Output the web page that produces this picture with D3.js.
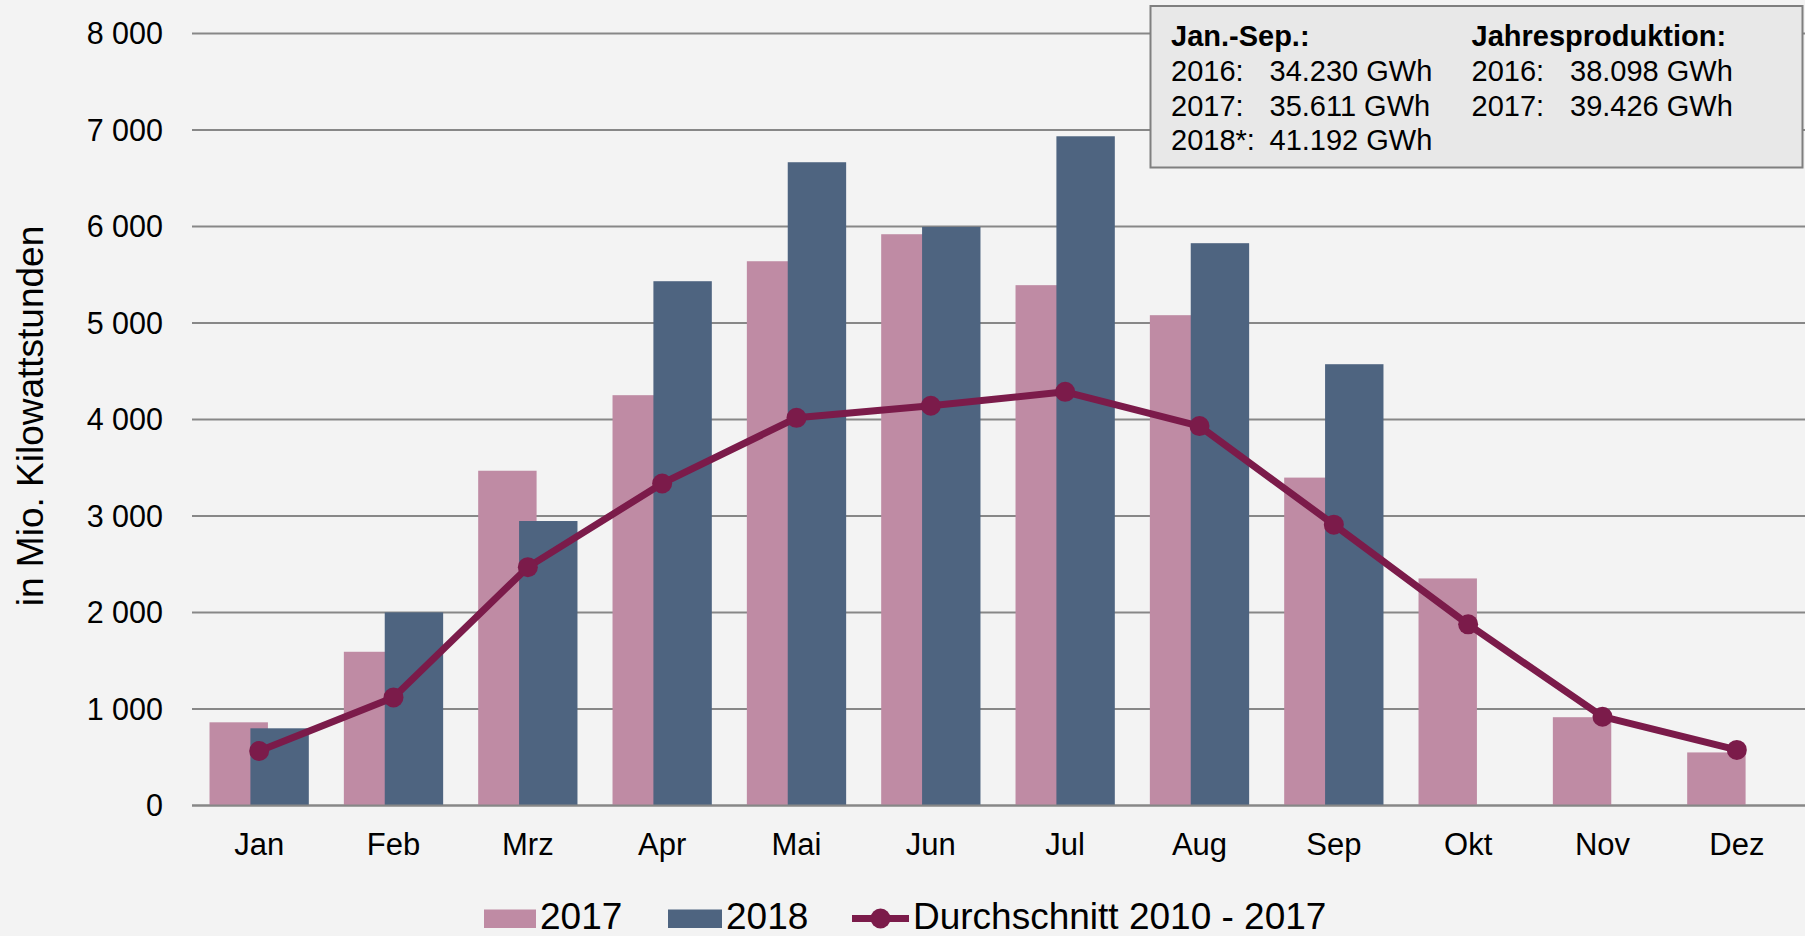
<!DOCTYPE html>
<html>
<head>
<meta charset="utf-8">
<script src="https://cdn.jsdelivr.net/npm/d3@7/dist/d3.min.js"></script>
<style>
  html, body { margin: 0; padding: 0; background: #f3f3f3; }
  svg { display: block; font-family: "Liberation Sans", Arial, sans-serif; }
</style>
</head>
<body>
<svg id="chart" width="1805" height="936"></svg>
<script>
// ---- Data ----
const months = ["Jan", "Feb", "Mrz", "Apr", "Mai", "Jun", "Jul", "Aug", "Sep", "Okt", "Nov", "Dez"];
const values2017 = [862, 1593, 3469, 4252, 5640, 5920, 5392, 5081, 3398, 2353, 915, 550];
const values2018 = [800, 2001, 2948, 5433, 6666, 5996, 6935, 5827, 4573, null, null, null];
const average = [565, 1119, 2470, 3337, 4017, 4142, 4287, 3932, 2910, 1877, 920, 576];
const yTicks = [0, 1000, 2000, 3000, 4000, 5000, 6000, 7000, 8000];
const seriesNames = ["2017", "2018", "Durchschnitt 2010 - 2017"];
const yTitle = "in Mio. Kilowattstunden";
const boxLeft = [
  { label: "Jan.-Sep.:", value: "", bold: true },
  { label: "2016:", value: "34.230 GWh" },
  { label: "2017:", value: "35.611 GWh" },
  { label: "2018*:", value: "41.192 GWh" }
];
const boxRight = [
  { label: "Jahresproduktion:", value: "", bold: true },
  { label: "2016:", value: "38.098 GWh" },
  { label: "2017:", value: "39.426 GWh" }
];

// ---- Styles ----
const C2017 = "#bf8ba4", C2018 = "#4e6480", CAVG = "#7b1b4a", CGRID = "#878787";

const svg = d3.select("#chart");
svg.append("rect").attr("width", 1805).attr("height", 936).attr("fill", "#f3f3f3");

const x = d3.scaleBand().domain(months).range([192, 1804]).paddingInner(0).paddingOuter(0);
const y = d3.scaleLinear().domain([0, 8000]).range([805.5, 33.5]);
const fmt = d3.formatLocale({ decimal: ",", thousands: " ", grouping: [3], currency: ["", ""] }).format(",d");

// gridlines
svg.append("g").selectAll("line").data(yTicks).join("line")
  .attr("x1", 192).attr("x2", 1805)
  .attr("y1", d => y(d)).attr("y2", d => y(d))
  .attr("stroke", CGRID).attr("stroke-width", 2.2);

// y tick labels
svg.append("g").selectAll("text").data(yTicks).join("text")
  .attr("x", 163).attr("y", d => y(d)).attr("dy", "0.36em")
  .attr("text-anchor", "end").attr("font-size", 30.5).attr("fill", "#000")
  .text(d => fmt(d));

// y title
svg.append("text")
  .attr("transform", "translate(43,416) rotate(-90)")
  .attr("text-anchor", "middle").attr("font-size", 37).attr("fill", "#000")
  .text(yTitle);

// bars
const bw = x.bandwidth() / 2.3;
const start = m => x(m) + 0.3 * bw;

svg.append("g").selectAll("rect").data(months).join("rect")
  .attr("x", m => start(m))
  .attr("y", (m, i) => y(values2017[i]))
  .attr("width", bw)
  .attr("height", (m, i) => y(0) - y(values2017[i]))
  .attr("fill", C2017);

svg.append("g").selectAll("rect")
  .data(months.filter((m, i) => values2018[i] != null)).join("rect")
  .attr("x", m => start(m) + 0.7 * bw)
  .attr("y", m => y(values2018[months.indexOf(m)]))
  .attr("width", bw)
  .attr("height", m => y(0) - y(values2018[months.indexOf(m)]))
  .attr("fill", C2018);

// baseline redraw on top of bars
svg.append("line").attr("x1", 192).attr("x2", 1805).attr("y1", y(0)).attr("y2", y(0))
  .attr("stroke", CGRID).attr("stroke-width", 2.2);

// average line
const cx = m => x(m) + x.bandwidth() / 2;
const line = d3.line().x((d, i) => cx(months[i])).y(d => y(d));
svg.append("path").datum(average).attr("d", line)
  .attr("fill", "none").attr("stroke", CAVG).attr("stroke-width", 7)
  .attr("stroke-linejoin", "round");
svg.append("g").selectAll("circle").data(average).join("circle")
  .attr("cx", (d, i) => cx(months[i])).attr("cy", d => y(d)).attr("r", 10)
  .attr("fill", CAVG);

// month labels
svg.append("g").selectAll("text").data(months).join("text")
  .attr("x", m => cx(m)).attr("y", 855)
  .attr("text-anchor", "middle").attr("font-size", 31).attr("fill", "#000")
  .text(m => m);

// info box
svg.append("rect").attr("x", 1150.5).attr("y", 6).attr("width", 652).attr("height", 161.5)
  .attr("fill", "#e8e8e8").attr("stroke", "#7f7f7f").attr("stroke-width", 2);
const rowsY = [46, 81, 115.5, 150];
function boxCol(rows, xl, xv) {
  const g = svg.append("g").attr("font-size", 29).attr("fill", "#000");
  rows.forEach((r, i) => {
    g.append("text").attr("x", xl).attr("y", rowsY[i])
      .attr("font-weight", r.bold ? "bold" : "normal").text(r.label);
    if (r.value) g.append("text").attr("x", xv).attr("y", rowsY[i]).text(r.value);
  });
}
boxCol(boxLeft, 1171, 1269.5);
boxCol(boxRight, 1471.5, 1570);

// legend
const lg = svg.append("g").attr("font-size", 37).attr("fill", "#000");
lg.append("rect").attr("x", 484).attr("y", 909.5).attr("width", 52).attr("height", 18.5).attr("fill", C2017);
lg.append("text").attr("x", 540).attr("y", 929).text(seriesNames[0]);
lg.append("rect").attr("x", 668).attr("y", 909.5).attr("width", 54).attr("height", 18.5).attr("fill", C2018);
lg.append("text").attr("x", 726).attr("y", 929).text(seriesNames[1]);
lg.append("line").attr("x1", 852).attr("x2", 909).attr("y1", 918.5).attr("y2", 918.5)
  .attr("stroke", CAVG).attr("stroke-width", 7);
lg.append("circle").attr("cx", 880.5).attr("cy", 918.5).attr("r", 10).attr("fill", CAVG);
lg.append("text").attr("x", 913).attr("y", 929).text(seriesNames[2]);
</script>
</body>
</html>
